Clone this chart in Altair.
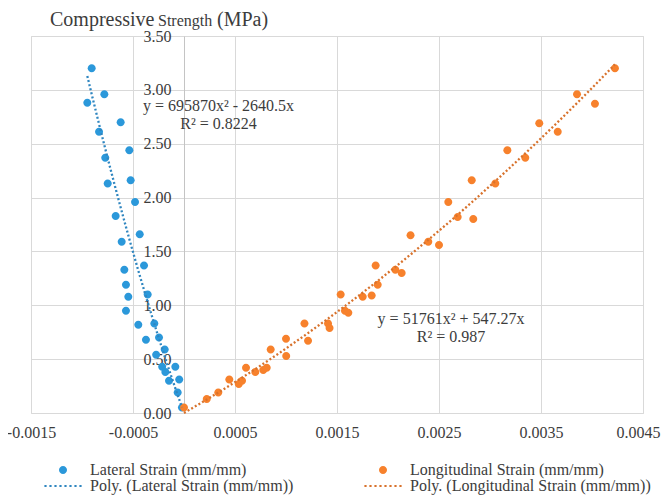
import altair as alt
import pandas as pd

# ---------------- data ----------------
LAT_LABEL = "Lateral Strain (mm/mm)"
LON_LABEL = "Longitudinal Strain (mm/mm)"
LAT_FIT_LABEL = "Poly. (Lateral Strain (mm/mm))"
LON_FIT_LABEL = "Poly. (Longitudinal Strain (mm/mm))"
# legend is filled column by column: (Lateral, Poly Lateral) | (Longitudinal, Poly Longitudinal)
LEGEND_ORDER = [LAT_LABEL, LAT_FIT_LABEL, LON_LABEL, LON_FIT_LABEL]

LAT_X = [-0.000905, -0.000781, -0.000948, -0.000621, -0.000833, -0.000536, -0.000772,
         -0.000523, -0.000748, -0.000480, -0.000670, -0.000434, -0.000611, -0.000392,
         -0.000585, -0.000569, -0.000546, -0.000356, -0.000569, -0.000448, -0.000291,
         -0.000373, -0.000245, -0.000189, -0.000273, -0.000085, -0.000214, -0.000183,
         -0.000147, -0.000047, -0.000062, -0.000020]
LAT_Y = [3.20, 2.96, 2.88, 2.70, 2.61, 2.44, 2.37, 2.16, 2.13, 1.96, 1.83, 1.66, 1.59,
         1.37, 1.33, 1.19, 1.08, 1.10, 0.95, 0.82, 0.83, 0.68, 0.70, 0.59, 0.54, 0.43,
         0.43, 0.38, 0.30, 0.31, 0.19, 0.05]

LON_X = [0.000000, 0.000223, 0.000336, 0.000444, 0.000537, 0.000569, 0.000608, 0.000699,
         0.000777, 0.000811, 0.000850, 0.001002, 0.001000, 0.001181, 0.001216, 0.001412,
         0.001427, 0.001536, 0.001578, 0.001611, 0.001752, 0.001840, 0.001879, 0.001899,
         0.002072, 0.002134, 0.002221, 0.002395, 0.002500, 0.002591, 0.002683, 0.002821,
         0.002836, 0.003052, 0.003170, 0.003346, 0.003483, 0.003664, 0.003853, 0.004029,
         0.004225]
LON_Y = [0.05, 0.13, 0.19, 0.31, 0.27, 0.30, 0.42, 0.38, 0.40, 0.42, 0.59, 0.53, 0.69,
         0.83, 0.67, 0.83, 0.79, 1.10, 0.95, 0.93, 1.08, 1.09, 1.37, 1.19, 1.33, 1.30,
         1.65, 1.59, 1.56, 1.96, 1.82, 2.16, 1.80, 2.13, 2.44, 2.37, 2.69, 2.61, 2.96,
         2.87, 3.20]

# trendline coefficients printed on the chart: y = A x^2 + B x
LAT_FIT = [695870, -2640.5]
LON_FIT = [51761, 547.27]
LAT_EQ = ["y = 695870x\u00b2 - 2640.5x", "R\u00b2 = 0.8224"]
LON_EQ = ["y = 51761x\u00b2 + 547.27x", "R\u00b2 = 0.987"]

X_TICKS = [-0.0015, -0.0005, 0.0005, 0.0015, 0.0025, 0.0035, 0.0045]
Y_TICKS = [0.0, 0.5, 1.0, 1.5, 2.0, 2.5, 3.0, 3.5]
TITLE_PARTS = ["Compressive", "Strength", "(MPa)"]

# ---------------- styling ----------------
FONT = "Liberation Serif, Times New Roman, Times, serif"
TXT = "#3c3c3c"
GRID = "#d9d9d9"
AXIS = "#c4c4c4"
BLUE = "#2B98DA"
ORANGE = "#F7812C"
BLUE_LINE = "#2F86C0"
ORANGE_LINE = "#D8722C"

CIRCLE = "M0.2,0A0.2,0.2 0 1,1 -0.2,0A0.2,0.2 0 1,1 0.2,0Z"
DOTS = " ".join(
    f"M{-0.93 + k * 0.25:.2f},-0.055h0.11v0.11h-0.11Z" for k in range(8)
)

pts = pd.DataFrame({
    "x": LAT_X + LON_X,
    "y": LAT_Y + LON_Y,
    "series": [LAT_LABEL] * len(LAT_X) + [LON_LABEL] * len(LON_X),
})

xscale = alt.Scale(domain=[-0.0015, 0.0045], nice=False, zero=False)
yscale = alt.Scale(domain=[0, 3.5], nice=False, zero=False)

x_axis = alt.Axis(
    values=X_TICKS, title=None, grid=True, gridColor=GRID, gridWidth=1,
    domain=False, ticks=False, labelFont=FONT, labelFontSize=16, labelColor=TXT,
    labelPadding=11, labelFlush=False, labelOverlap=False,
    labelOffset={"condition": {"test": "datum.value > 0.004", "value": -5}, "value": 0},
    labelExpr="datum.value < 0 ? '-' + format(-datum.value, '.4f') : format(datum.value, '.4f')",
)
y_axis = alt.Axis(
    values=Y_TICKS, title=None, grid=True, gridColor=GRID, gridWidth=1,
    domain=True, domainColor=AXIS, domainWidth=1, ticks=False, format=".2f",
    labelFont=FONT, labelFontSize=16, labelColor=TXT, labelPadding=13,
    labelFlush=False, labelOverlap=False, offset=-153,
)

leg = alt.Legend(
    title=None, orient="none", legendX=12, legendY=426, columns=2,
    columnPadding=69, rowPadding=0, clipHeight=16, symbolSize=1600,
    labelFont=FONT, labelFontSize=16, labelColor=TXT, labelOffset=7,
    padding=0, labelLimit=400, symbolStrokeWidth=0,
)

points = alt.Chart(pts).mark_point(filled=True, size=1600, opacity=1, strokeWidth=0).encode(
    x=alt.X("x:Q", scale=xscale, axis=x_axis),
    y=alt.Y("y:Q", scale=yscale, axis=y_axis),
    color=alt.Color("series:N", scale=alt.Scale(domain=LEGEND_ORDER,
                    range=[BLUE, BLUE_LINE, ORANGE, ORANGE_LINE]), legend=leg),
    shape=alt.Shape("series:N", scale=alt.Scale(domain=LEGEND_ORDER,
                    range=[CIRCLE, DOTS, CIRCLE, DOTS]), legend=leg),
)


def trend(xs, coef, color):
    return alt.Chart(pd.DataFrame({"x": xs})).transform_calculate(
        fit=f"({coef[0]})*datum.x*datum.x + ({coef[1]})*datum.x"
    ).mark_line(color=color, strokeDash=[2, 2.2], strokeWidth=2.3, strokeCap="butt").encode(
        x=alt.X("x:Q", scale=xscale, axis=x_axis),
        y=alt.Y("fit:Q", scale=yscale, axis=y_axis),
    )


one = alt.Data(values=[{}])


def note(text, xv, yv):
    return alt.Chart(one).mark_text(
        text=text, font=FONT, fontSize=16, color=TXT, align="center", baseline="middle"
    ).encode(x=alt.XDatum(xv, scale=xscale, axis=x_axis),
             y=alt.YDatum(yv, scale=yscale, axis=y_axis))


def title_part(text, size, px):
    return alt.Chart(one).mark_text(
        text=text, font=FONT, fontSize=size, color=TXT, align="left", baseline="alphabetic"
    ).encode(x=alt.value(px), y=alt.value(-10.5))


layers = [
    points,
    trend(LAT_X, LAT_FIT, BLUE_LINE),
    trend(LON_X, LON_FIT, ORANGE_LINE),
    note(LAT_EQ[0], 0.000338, 2.85),
    note(LAT_EQ[1], 0.000338, 2.683),
    note(LON_EQ[0], 0.002618, 0.873),
    note(LON_EQ[1], 0.002618, 0.706),
    title_part(TITLE_PARTS[0], 20, 19),
    title_part(TITLE_PARTS[1], 16, 127),
    title_part(TITLE_PARTS[2], 20, 186),
]

chart = alt.layer(*layers).properties(
    width=612, height=377,
    autosize=alt.AutoSizeParams(type="none"),
    padding={"left": 23, "top": 28, "right": 20, "bottom": 82},
).configure_view(stroke="transparent").configure(background="white")

chart.save("out.html", embed_options={"renderer": "svg", "actions": False})
